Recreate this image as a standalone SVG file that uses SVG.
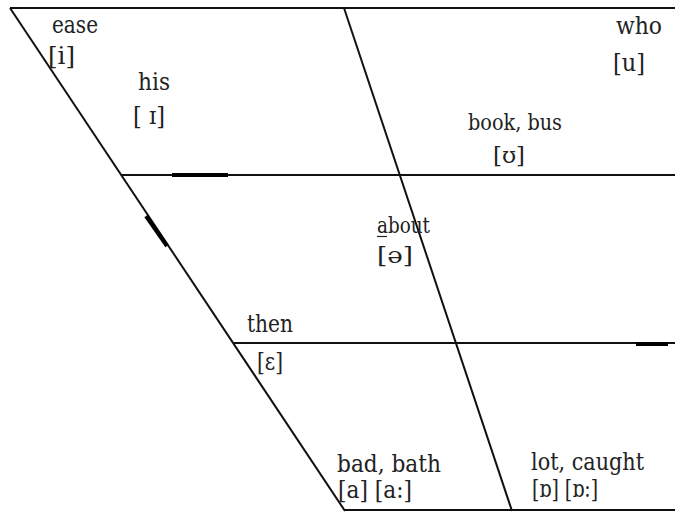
<svg xmlns="http://www.w3.org/2000/svg" width="675" height="513" viewBox="0 0 675 513">
<style>
.ln{stroke:#111;stroke-width:2;fill:none}
.tk{stroke:#000;stroke-width:4;fill:none}
.ul{stroke:#222;stroke-width:1.2}
text{font-family:"DejaVu Serif","Liberation Serif",serif;font-size:24px;fill:#222}
.sm{font-size:22px}
</style>
<rect width="675" height="513" fill="#fff"/>
<g id="connectors">
<line class="ln" x1="10" y1="8" x2="675" y2="8"/>
<line class="ln" x1="10" y1="8" x2="345" y2="511"/>
<line class="ln" x1="344" y1="8" x2="512" y2="511"/>
<line class="ln" x1="122" y1="175" x2="675" y2="175"/>
<line class="ln" x1="234" y1="343" x2="675" y2="343"/>
<line class="ln" x1="345" y1="510" x2="675" y2="510"/>
<line class="tk" x1="172" y1="175" x2="228" y2="175"/>
<line class="tk" x1="146" y1="216" x2="167" y2="246"/>
<line class="tk" x1="636" y1="344" x2="668" y2="344"/>
</g>
<g id="ease"><text x="52" y="33" textLength="46" lengthAdjust="spacingAndGlyphs">ease</text><text x="48" y="64" textLength="27" lengthAdjust="spacingAndGlyphs">[i]</text></g>
<g id="his"><text x="138" y="90" textLength="32" lengthAdjust="spacingAndGlyphs">his</text><text x="133" y="124" textLength="32" lengthAdjust="spacingAndGlyphs">[ ɪ]</text></g>
<g id="who"><text x="616" y="34" textLength="46" lengthAdjust="spacingAndGlyphs">who</text><text x="613" y="71" textLength="32" lengthAdjust="spacingAndGlyphs">[u]</text></g>
<g id="book"><text class="sm" x="468" y="130" textLength="94" lengthAdjust="spacingAndGlyphs">book, bus</text><text class="sm" x="493" y="163" textLength="32" lengthAdjust="spacingAndGlyphs">[ʊ]</text></g>
<g id="about"><text class="sm" x="377" y="233" textLength="53" lengthAdjust="spacingAndGlyphs">about</text><line class="ul" x1="377" y1="236.5" x2="387" y2="236.5"/><text class="sm" x="377" y="263" textLength="36" lengthAdjust="spacingAndGlyphs">[ə]</text></g>
<g id="then"><text x="247" y="332" textLength="46" lengthAdjust="spacingAndGlyphs">then</text><text x="257" y="370" textLength="26" lengthAdjust="spacingAndGlyphs">[ɛ]</text></g>
<g id="bad"><text x="337" y="472" textLength="104" lengthAdjust="spacingAndGlyphs">bad, bath</text><text x="338" y="498" textLength="74" lengthAdjust="spacingAndGlyphs">[a] [a:]</text></g>
<g id="lot"><text x="531" y="470" textLength="113" lengthAdjust="spacingAndGlyphs">lot, caught</text><text x="532" y="497" textLength="66" lengthAdjust="spacingAndGlyphs">[ɒ] [ɒ:]</text></g>
</svg>
